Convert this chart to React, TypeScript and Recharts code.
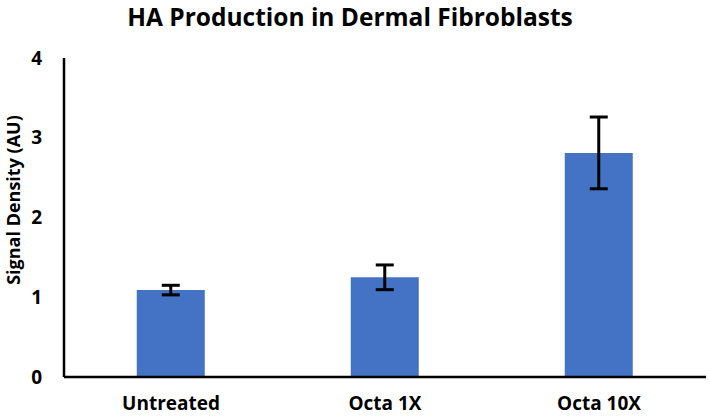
import React from 'react';
import { BarChart, Bar, XAxis, YAxis, ErrorBar, Label } from 'recharts';

const categories = ['Untreated', 'Octa 1X', 'Octa 10X'];
const signal = [1.09, 1.25, 2.81];
const signalErr = [0.06, 0.155, 0.45];
const yTicks = [0, 1, 2, 3, 4];

const data = categories.map((name, i) => ({ name, value: signal[i], err: signalErr[i] }));

const font = '"Open Sans", sans-serif';

// rotated axis title, placed by hand so it sits close to the left edge
const YTitle = () => (
  <text
    x={13}
    y={200}
    transform="rotate(-90 13 200)"
    textAnchor="middle"
    dominantBaseline="central"
    style={{ fill: '#000', fontSize: 18, fontWeight: 700, fontFamily: font }}
  >
    Signal Density (AU)
  </text>
);

const App: React.FC = () => {
  return (
    <div style={{ position: 'absolute', left: 0, top: 0, width: 709, height: 417, background: '#fff', fontFamily: font }}>
      <div
        style={{
          position: 'absolute',
          top: 0,
          left: 0,
          width: 700,
          textAlign: 'center',
          fontSize: 24.5,
          fontWeight: 700,
          color: '#000'
        }}
      >
        HA Production in Dermal Fibroblasts
      </div>
      <BarChart
        width={709}
        height={417}
        data={data}
        margin={{ top: 58, right: 3, bottom: 0, left: 0 }}
        barCategoryGap="34%"
      >
        <XAxis
          dataKey="name"
          height={40}
          axisLine={{ stroke: '#000', strokeWidth: 2.5 }}
          tickLine={false}
          tickSize={0}
          tickMargin={20}
          tick={{ fill: '#000', fontSize: 19, fontWeight: 700, fontFamily: font }}
        />
        <YAxis
          width={64}
          domain={[0, 4]}
          ticks={yTicks}
          axisLine={{ stroke: '#000', strokeWidth: 2.5 }}
          tickLine={false}
          tickSize={0}
          tickMargin={22}
          tick={{ fill: '#000', fontSize: 19, fontWeight: 700, fontFamily: font }}
        >
          <Label content={<YTitle />} />
        </YAxis>
        <Bar dataKey="value" fill="#4472c4" isAnimationActive={false}>
          <ErrorBar dataKey="err" width={9} stroke="#000" strokeWidth={3} isAnimationActive={false} />
        </Bar>
      </BarChart>
    </div>
  );
};

export default App;
